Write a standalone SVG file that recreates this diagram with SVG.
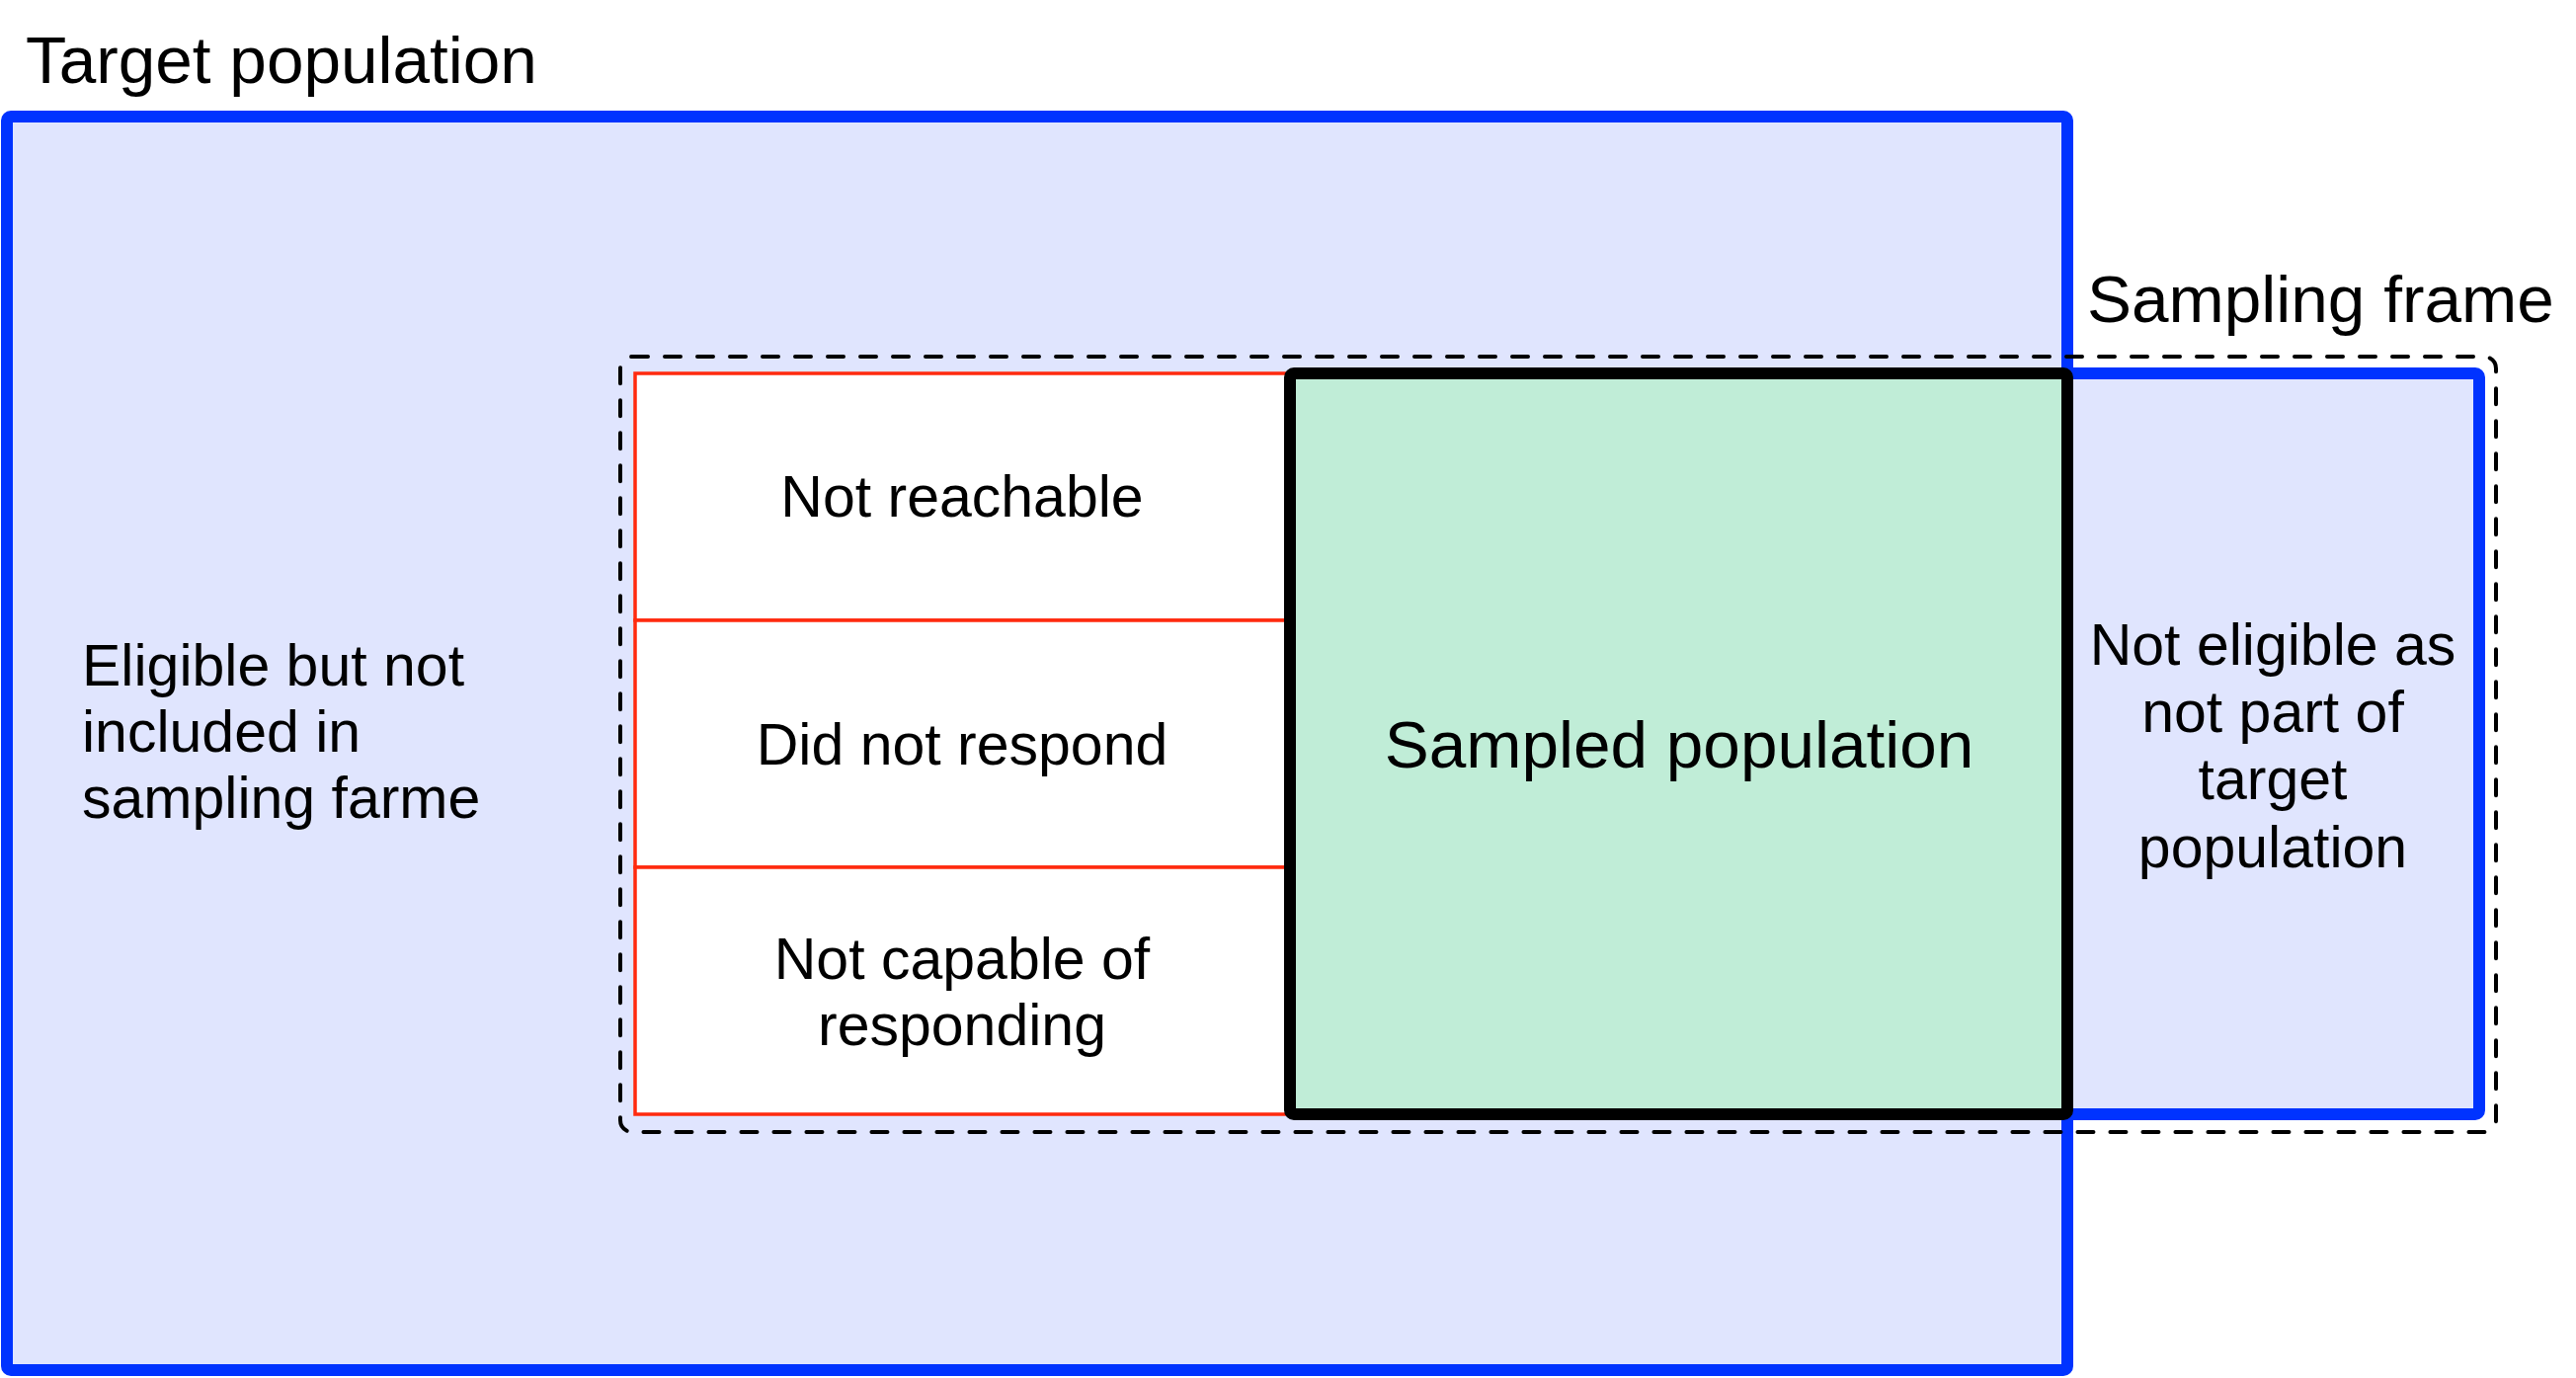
<svg xmlns="http://www.w3.org/2000/svg" width="2608" height="1395" viewBox="0 0 2608 1395">
<style>
text{font-family:"Liberation Sans",Arial,Helvetica,sans-serif;fill:#000}
.big{font-size:67.5px}
.lbl{font-size:59px}
.blue{fill:#E0E5FE;stroke:#0033FF;stroke-width:12;stroke-linejoin:round}
.red{fill:#FFFFFF;stroke:#FF2A0E;stroke-width:3.5}
</style>
<rect width="2608" height="1395" fill="#FFFFFF"/>
<g id="target-population">
<rect class="blue" x="7" y="118" width="2086" height="1269" rx="4"/>
<text class="big" x="26" y="84">Target population</text>
<text class="lbl" x="83" y="694">Eligible but not</text>
<text class="lbl" x="83" y="761">included in</text>
<text class="lbl" x="83" y="828">sampling farme</text>
</g>
<g id="sampling-frame">
<rect class="blue" x="2093" y="378" width="417" height="750" rx="4"/>
<text class="big" x="2113" y="326">Sampling frame</text>
<text class="lbl" text-anchor="middle" x="2301" y="673">Not eligible as</text>
<text class="lbl" text-anchor="middle" x="2301" y="741">not part of</text>
<text class="lbl" text-anchor="middle" x="2301" y="809">target</text>
<text class="lbl" text-anchor="middle" x="2301" y="878">population</text>
</g>
<g id="not-reachable">
<rect class="red" x="643" y="378" width="663" height="250"/>
<text class="lbl" text-anchor="middle" x="974" y="523">Not reachable</text>
</g>
<g id="did-not-respond">
<rect class="red" x="643" y="628" width="663" height="250"/>
<text class="lbl" text-anchor="middle" x="974" y="774">Did not respond</text>
</g>
<g id="not-capable">
<rect class="red" x="643" y="878" width="663" height="250"/>
<text class="lbl" text-anchor="middle" x="974" y="991">Not capable of</text>
<text class="lbl" text-anchor="middle" x="974" y="1058">responding</text>
</g>
<g id="sampled-population">
<rect x="1306" y="378" width="787" height="750" rx="4" fill="#C0EDD7" stroke="#000000" stroke-width="12" stroke-linejoin="round"/>
<text class="big" text-anchor="middle" x="1700" y="777">Sampled population</text>
</g>
<g id="connectors">
<rect x="628" y="361" width="1899" height="785" rx="12" fill="none" stroke="#000000" stroke-width="4" stroke-dasharray="16 17" stroke-linecap="round"/>
</g>
</svg>
